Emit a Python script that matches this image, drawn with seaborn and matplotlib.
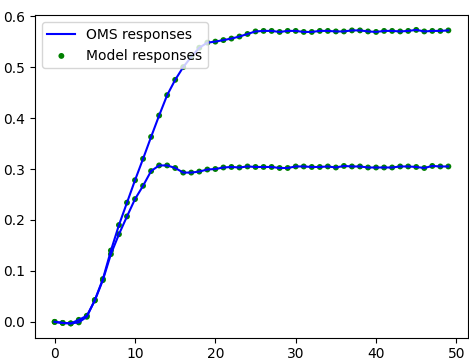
import numpy as np
import pandas as pd
import matplotlib
matplotlib.use("Agg")
import matplotlib.pyplot as plt
import seaborn as sns

steps = list(range(50))
upper = [0.0, -0.002, -0.003, -0.001, 0.010, 0.043, 0.084, 0.140, 0.190, 0.234,
         0.278, 0.320, 0.363, 0.405, 0.445, 0.475, 0.500, 0.520, 0.538, 0.548,
         0.550, 0.553, 0.556, 0.560, 0.565, 0.570, 0.571, 0.571, 0.569, 0.571,
         0.571, 0.569, 0.569, 0.571, 0.571, 0.570, 0.570, 0.572, 0.572, 0.570,
         0.569, 0.571, 0.571, 0.570, 0.571, 0.573, 0.570, 0.571, 0.571, 0.572]
lower = [0.0, -0.002, -0.003, 0.004, 0.012, 0.042, 0.082, 0.133, 0.172, 0.207,
         0.241, 0.267, 0.296, 0.307, 0.307, 0.302, 0.293, 0.293, 0.295, 0.299,
         0.300, 0.303, 0.304, 0.303, 0.305, 0.304, 0.304, 0.304, 0.302, 0.302,
         0.305, 0.305, 0.304, 0.304, 0.305, 0.303, 0.306, 0.305, 0.305, 0.303,
         0.303, 0.303, 0.303, 0.305, 0.305, 0.304, 0.302, 0.306, 0.305, 0.305]

plt.style.use("default")
plt.rcParams['font.family'] = ['DejaVu Sans']

fig = plt.figure(figsize=(4.69, 3.6), dpi=100)
ax = fig.add_axes([0.0746, 0.062, 0.9234, 0.896])

sns.lineplot(x=steps, y=upper, ax=ax, color="blue", linewidth=1.5,
             label="OMS responses", zorder=3)
sns.lineplot(x=steps, y=lower, ax=ax, color="blue", linewidth=1.5, zorder=3)
sns.scatterplot(x=steps, y=upper, ax=ax, color="green", s=18, edgecolor="none",
                label="Model responses", zorder=2)
sns.scatterplot(x=steps, y=lower, ax=ax, color="green", s=18, edgecolor="none", zorder=2)

ax.set_xticks([0, 10, 20, 30, 40, 50])
ax.set_yticks([0.0, 0.1, 0.2, 0.3, 0.4, 0.5, 0.6])
ax.set_ylim(-0.031, 0.602)
ax.set_xlim(-2.45, 51.45)
ax.set_xlabel("")
ax.set_ylabel("")
ax.legend(loc="upper left", fontsize=10)

fig.savefig("out.png", dpi=100)
